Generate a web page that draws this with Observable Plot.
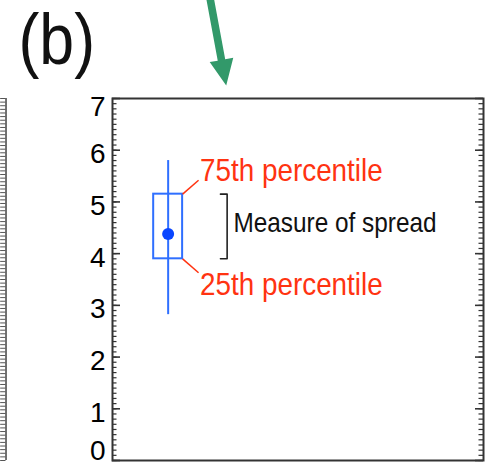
<!DOCTYPE html>
<html><head><meta charset="utf-8">
<script src="https://cdn.jsdelivr.net/npm/d3@7"></script>
<script src="https://cdn.jsdelivr.net/npm/@observablehq/plot@0.6"></script>
<style>body{margin:0;background:#fff;} svg{display:block}</style>
</head><body><div id="chart"></div>
<script>
// ---- data ----
const categories = ["(b)"];
const whiskerLow = [2.82];
const q25 = [3.9];
const mean = [4.38];
const q75 = [5.15];
const whiskerHigh = [5.8];
const yMajorTicks = [0, 1, 2, 3, 4, 5, 6, 7];
const upperLabel = "75th percentile";
const lowerLabel = "25th percentile";
const spreadLabel = "Measure of spread";

// ---- layout constants (x in frame fraction) ----
const BOX_X = 0.15, BOX_HALF = 0.039;
const LABEL_X = 0.236, LEAD = 0.27;
const BRACKET_X = 0.309, BRACKET_ARM = 0.018, SPREAD_X = 0.326;
const NEIGHBOUR_X = -0.287, NEIGHBOUR_TICK = 0.0145;
const ARROW_X = 0.3065;
const blue = "#2f6fff", dotBlue = "#0a46ff", red = "#ff3311", green = "#32996a";

const rows = categories.map((c, i) => ({cat: c, lo: whiskerLow[i], q25: q25[i], mean: mean[i], q75: q75[i], hi: whiskerHigh[i]}));
const r = rows[0];
const upperRows = [{y: r.q75, label: upperLabel, dir: 1}];
const lowerRows = [{y: r.q25, label: lowerLabel, dir: -1}];
const connectorRows = [...upperRows, ...lowerRows];
const bracket = [
  {x: BRACKET_X - BRACKET_ARM, y: r.q75},
  {x: BRACKET_X, y: r.q75},
  {x: BRACKET_X, y: r.q25},
  {x: BRACKET_X - BRACKET_ARM, y: r.q25}
];
const minorTicks = d3.range(0, 7.0001, 0.1);
const neighbourTicks = d3.range(0, 7.0001, 0.07);

const arrowShape = {draw(ctx, l) {
  const head = 26, hw = 12, sw = 3.8;
  ctx.moveTo(-sw, 0); ctx.lineTo(-sw, -(l - head)); ctx.lineTo(-hw, -(l - head));
  ctx.lineTo(0, -l); ctx.lineTo(hw, -(l - head)); ctx.lineTo(sw, -(l - head));
  ctx.lineTo(sw, 0); ctx.closePath();
}};

const axisOpts = {tickSize: 0, tickPadding: 7, fontSize: 28, tickFormat: d3.format("d"), label: null};

const plot = Plot.plot({
  width: 492, height: 463,
  marginLeft: 112, marginRight: 9, marginTop: 98, marginBottom: 3,
  x: {domain: [0, 1], axis: null},
  y: {domain: [0, 7], axis: null},
  style: {fontFamily: "'Liberation Sans', Arial, sans-serif", background: "white"},
  marks: [
    // neighbouring panel edge
    Plot.ruleX([NEIGHBOUR_X], {x: d => d, y1: 0, y2: 7, stroke: "#444", strokeWidth: 1.5}),
    Plot.ruleY(neighbourTicks, {y: d => d, x1: NEIGHBOUR_X - NEIGHBOUR_TICK, x2: NEIGHBOUR_X, stroke: "#555", strokeWidth: 1}),
    // axes ticks (inward)
    Plot.tickY(minorTicks, {y: d => d, insetRight: 366.5, stroke: "#333", strokeWidth: 1.2}),
    Plot.tickY(yMajorTicks, {y: d => d, insetRight: 363, stroke: "#333", strokeWidth: 1.6}),
    Plot.tickY(minorTicks, {y: d => d, insetLeft: 366.5, stroke: "#333", strokeWidth: 1.2}),
    Plot.tickY(yMajorTicks, {y: d => d, insetLeft: 363, stroke: "#333", strokeWidth: 1.6}),
    Plot.frame({stroke: "#333", strokeWidth: 2}),
    Plot.axisY(yMajorTicks.filter(d => d > 0 && d < 7), {...axisOpts, dy: 4}),
    Plot.axisY(yMajorTicks.filter(d => d === 7), {...axisOpts, dy: 9}),
    Plot.axisY(yMajorTicks.filter(d => d === 0), {...axisOpts, dy: -9}),
    // box plot
    Plot.ruleX(rows, {x: BOX_X, y1: "lo", y2: "hi", stroke: blue, strokeWidth: 2}),
    Plot.rect(rows, {x1: BOX_X - BOX_HALF, x2: BOX_X + BOX_HALF, y1: "q25", y2: "q75", fill: "none", stroke: blue, strokeWidth: 2}),
    Plot.dot(rows, {x: BOX_X, y: "mean", r: 6, fill: dotBlue, stroke: "none"}),
    // annotations
    Plot.link(connectorRows, {x1: BOX_X + BOX_HALF, x2: LABEL_X - 0.004, y1: "y", y2: d => d.y + d.dir * LEAD, stroke: red, strokeWidth: 1.5}),
    Plot.text(upperRows, {x: LABEL_X, y: "y", text: "label", dy: -23, fontSize: 32, fill: red, textAnchor: "start", lineAnchor: "middle", className: "annot"}),
    Plot.text(lowerRows, {x: LABEL_X, y: "y", text: "label", dy: 26, fontSize: 32, fill: red, textAnchor: "start", lineAnchor: "middle", className: "annot"}),
    Plot.line(bracket, {x: "x", y: "y", stroke: "#222", strokeWidth: 1.6}),
    Plot.text([spreadLabel], {x: SPREAD_X, y: (r.q25 + r.q75) / 2, text: d => d, dy: -3, fontSize: 28, fill: "#111", textAnchor: "start", lineAnchor: "middle", className: "annot"}),
    // panel label
    Plot.text(categories, {frameAnchor: "top-left", text: d => d, dx: -94, dy: -58, fontSize: 72, fill: "#111", textAnchor: "start", lineAnchor: "middle", className: "annot"}),
    // pointer arrow
    Plot.vector([0], {x: ARROW_X, y: 7, dy: -13, anchor: "end", length: 96, rotate: 169.5, shape: arrowShape, fill: green, stroke: "none"})
  ]
});
document.getElementById("chart").appendChild(plot);
d3.select(plot).selectAll(".annot text").each(function() {
  const L = this.getComputedTextLength();
  this.setAttribute("textLength", L * 0.87);
  this.setAttribute("lengthAdjust", "spacingAndGlyphs");
});
</script>
</body></html>
